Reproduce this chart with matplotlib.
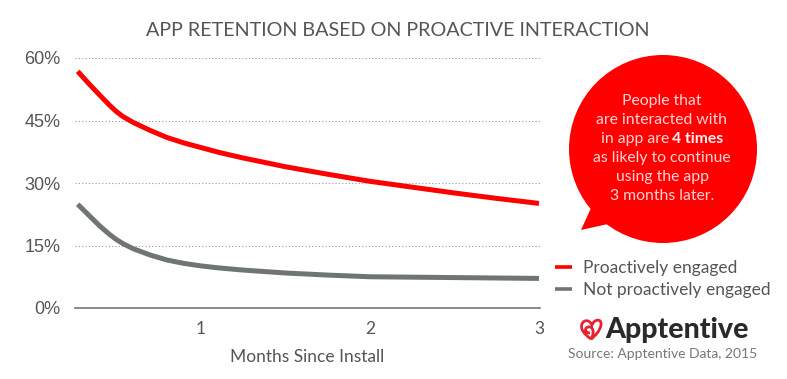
import matplotlib
matplotlib.use("Agg")
import matplotlib.pyplot as plt
from matplotlib.patches import Circle, PathPatch, Polygon
from matplotlib.path import Path

plt.rcParams["font.family"] = "Lato"

W, H = 787, 379

# Datos
months = [0.27, 0.33, 0.40, 0.46, 0.50, 0.54, 0.60, 0.70, 0.80, 0.90, 1.0, 1.11, 1.25, 1.5, 1.75,
          2.0, 2.25, 2.5, 2.75, 3.0]
engaged = [56.8, 54.1, 51.1, 48.6, 47.1, 45.9, 44.5, 42.6, 40.9, 39.6, 38.5, 37.3, 36.0, 33.9, 32.1,
           30.4, 29.0, 27.6, 26.3, 25.1]
not_engaged = [24.9, 22.5, 19.7, 17.6, 16.4, 15.4, 14.2, 12.7, 11.5, 10.7, 10.1, 9.6, 9.1, 8.4, 7.9,
               7.5, 7.4, 7.3, 7.2, 7.1]
y_ticks = [0, 15, 30, 45, 60]
y_labels = ["0%", "15%", "30%", "45%", "60%"]
x_ticks = [1, 2, 3]

RED = "#fe0000"
GREY = "#6f7672"
TEXT = "#555555"

fig = plt.figure(figsize=(W / 100, H / 100), dpi=100)
ax = fig.add_axes([75 / W, 1 - 308 / H, 465 / W, 250 / H])

ax.plot(months, engaged, color=RED, lw=3.6, solid_capstyle="butt", solid_joinstyle="round")
ax.plot(months, not_engaged, color=GREY, lw=3.6, solid_capstyle="butt", solid_joinstyle="round")

ax.set_xlim(0.254, 3.006)
ax.set_ylim(0, 60)
ax.set_yticks(y_ticks, y_labels, family="Liberation Sans", fontsize=13, color=TEXT)
ax.set_xticks(x_ticks, [str(v) for v in x_ticks], fontsize=12.5, color=TEXT)
ax.tick_params(length=0)
ax.tick_params(axis="y", pad=10.5)
ax.tick_params(axis="x", pad=9)
ax.grid(axis="y", color="#999999", lw=0.8, ls=(0, (1, 2)))
ax.set_axisbelow(True)
for side in ["top", "right", "left"]:
    ax.spines[side].set_visible(False)
ax.spines["bottom"].set_color("#777777")
ax.spines["bottom"].set_linewidth(1.2)
ax.set_xlabel("Months Since Install", fontsize=12.5, color=TEXT, labelpad=9)

# Capa en píxeles para globo, leyenda y logo
ov = fig.add_axes([0, 0, 1, 1], facecolor="none")
ov.set_xlim(0, W)
ov.set_ylim(H, 0)
ov.axis("off")

fig.text(398 / W, 1 - 30 / H, "APP RETENTION BASED ON PROACTIVE INTERACTION",
         ha="center", va="center", fontsize=14.2, color=TEXT)

# Globo
ov.add_patch(Circle((663, 149), 94, color=RED, lw=0))
ov.add_patch(Polygon([(591, 208), (581, 230), (608, 224)], color=RED, lw=0))
bubble_lines = [
    (101, "People that"),
    (120, "are interacted with"),
    (158, "as likely to continue"),
    (177, "using the app"),
    (196, "3 months later."),
]
for y, line in bubble_lines:
    ov.text(662, y, line, ha="center", va="center", fontsize=11.3, color="#ffd5d5")
ov.text(669, 139, "in app are", ha="right", va="center", fontsize=11.3, color="#ffd5d5")
ov.text(672, 139, "4 times", ha="left", va="center", fontsize=11.3, color="#fff0f0",
        fontweight="bold")

# Leyenda
ov.plot([555, 572], [267, 267], color=RED, lw=2.6, solid_capstyle="butt")
ov.plot([555, 572], [289, 289], color=GREY, lw=2.6, solid_capstyle="butt")
ov.text(583, 268, "Proactively engaged", va="center", fontsize=12.5, color=TEXT)
ov.text(583, 290, "Not proactively engaged", va="center", fontsize=12.5, color=TEXT)

# Logo
heart = Path(
    [(591, 339),
     (584, 334), (580, 329), (582, 324),
     (584, 319), (590, 320), (592, 325),
     (594, 319), (602, 318), (601, 325),
     (600, 331), (595, 336), (591, 339),
     (595, 332), (593, 326), (588, 327),
     (584, 328), (585, 333), (590, 333)],
    [Path.MOVETO] + [Path.CURVE4] * 18,
)
ov.add_patch(PathPatch(heart, fc="none", ec="#e8202f", lw=2))
ov.text(605, 330, "Apptentive", va="center", fontsize=20.5, fontweight="black", color="#2a2a2a")
ov.text(568, 354, "Source: Apptentive Data, 2015", va="center", fontsize=10, color="#777777")

fig.savefig("out.png", dpi=100, facecolor="white")
plt.close()
